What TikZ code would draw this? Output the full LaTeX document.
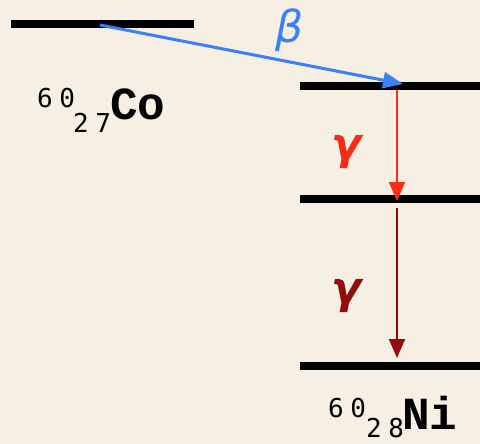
\documentclass[tikz,border=0pt]{standalone}
\usepackage{fontspec}
\usetikzlibrary{arrows.meta}
\newfontfamily\numfont[LetterSpace=25]{DejaVu Sans Mono}
\newfontfamily\symfont{Liberation Mono}
\newfontfamily\greekfont{DejaVu Sans}
\definecolor{paper}{RGB}{246,240,228}
\definecolor{betablue}{RGB}{58,128,250}
\definecolor{gammared}{RGB}{250,45,20}
\definecolor{gammadark}{RGB}{145,12,10}
\tikzset{
  level/.style={line width=7.5pt},
  decay/.style={line width=2pt,-{Triangle[length=19pt,width=16pt]}},
  mass/.style={anchor=base west,inner sep=0pt,font=\numfont\fontsize{26}{26}\selectfont},
  elem/.style={anchor=base west,inner sep=0pt,font=\symfont\bfseries\fontsize{46}{46}\selectfont},
  greek/.style={inner sep=0pt,font=\greekfont\fontsize{44}{44}\selectfont}
}
\begin{document}
\begin{tikzpicture}[x=1pt,y=-1pt]
\fill[paper] (0,0) rectangle (480,444);
\useasboundingbox (0,0) rectangle (480,444);
% energy levels
\draw[level] (11,24) -- (194,24);
\draw[level] (300,86) -- (480,86);
\draw[level] (300,199) -- (480,199);
\draw[level] (300,366) -- (480,366);
\coordinate (co) at (100,25);
\coordinate (ni2) at (403,84);
\coordinate (ni2b) at (397,90);
\coordinate (ni1) at (397,201);
\coordinate (ni1b) at (397,208);
\coordinate (ni0) at (397,358);
% transitions
\draw[decay,line width=3pt,betablue,-{Triangle[length=20pt,width=16pt]}] (co) -- (ni2);
\draw[decay,gammared] (ni2b) -- (ni1);
\draw[decay,gammadark] (ni1b) -- (ni0);
\node[greek,text=betablue] (beta) at (290,30) {\itshape β};
\node[greek,text=gammared] (g1) at (346,152) {\bfseries\itshape γ};
\node[greek,text=gammadark] (g2) at (346,296) {\bfseries\itshape γ};
% nuclides
\node[mass] (coA) at (37,107) {60};
\node[mass] (coZ) at (73,132) {27};
\node[elem] (coX) at (110,120) {Co};
\node[mass] (niA) at (328,417) {60};
\node[mass] (niZ) at (366,437) {28};
\node[elem] (niX) at (402,429) {Ni};
\end{tikzpicture}
\end{document}
